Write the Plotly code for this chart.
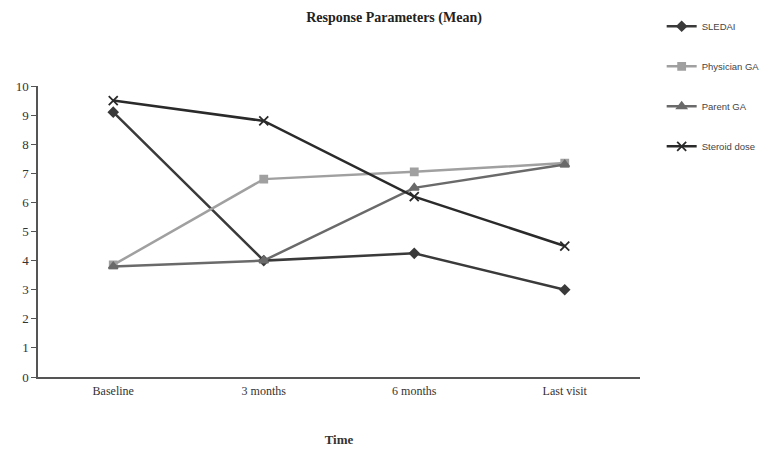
import plotly.graph_objects as go

categories = ["Baseline", "3 months", "6 months", "Last visit"]
sledai = [9.1, 4.0, 4.25, 3.0]
physician_ga = [3.85, 6.8, 7.05, 7.35]
parent_ga = [3.8, 4.0, 6.5, 7.3]
steroid_dose = [9.5, 8.8, 6.2, 4.5]

series = [
    ("SLEDAI", sledai, "#3a3a3a", "diamond", 7),
    ("Physician GA", physician_ga, "#a0a0a0", "square", 7),
    ("Parent GA", parent_ga, "#6a6a6a", "triangle-up", 8),
    ("Steroid dose", steroid_dose, "#2a2a2a", "x-thin-open", 9),
]

fig = go.Figure()
for i, (name, vals, color, sym, size) in enumerate(series):
    fig.add_trace(go.Scatter(
        x=categories, y=vals, name=name, mode="lines+markers",
        line=dict(color=color, width=2.5),
        marker=dict(symbol=sym, size=size, color=color,
                    line=dict(color=color, width=1.8)),
        legendgroup=f"g{i}",
    ))

fig.update_layout(
    width=772, height=449,
    margin=dict(l=30, r=140, t=78, b=80, autoexpand=False),
    paper_bgcolor="white", plot_bgcolor="white",
    font=dict(family="Liberation Serif", color="#333333", size=13),
    title=dict(text="<b>Response Parameters (Mean)</b>", x=0.5, xanchor="center",
               y=0.98, yanchor="middle", font=dict(size=14, family="Liberation Serif", color="#222222")),
    legend=dict(x=1.036, xanchor="left", y=1.255, yanchor="top",
                font=dict(family="Liberation Sans", size=9.5, color="#444444"),
                tracegroupgap=21, bgcolor="rgba(0,0,0,0)", itemwidth=30),
    xaxis=dict(type="category", range=[-0.5, 3.5], showgrid=False,
               showline=True, linecolor="#555555", linewidth=1.5,
               ticks="", tickfont=dict(size=12), ticklabelstandoff=2,
               title=dict(text="<b>Time</b>", font=dict(size=13), standoff=38)),
    yaxis=dict(range=[0, 10], dtick=1, showgrid=False, zeroline=False,
               showline=True, linecolor="#555555", linewidth=1.5,
               ticks="outside", ticklen=5, tickcolor="#555555", tickfont=dict(size=13)),
)

fig.write_html("out.html")
